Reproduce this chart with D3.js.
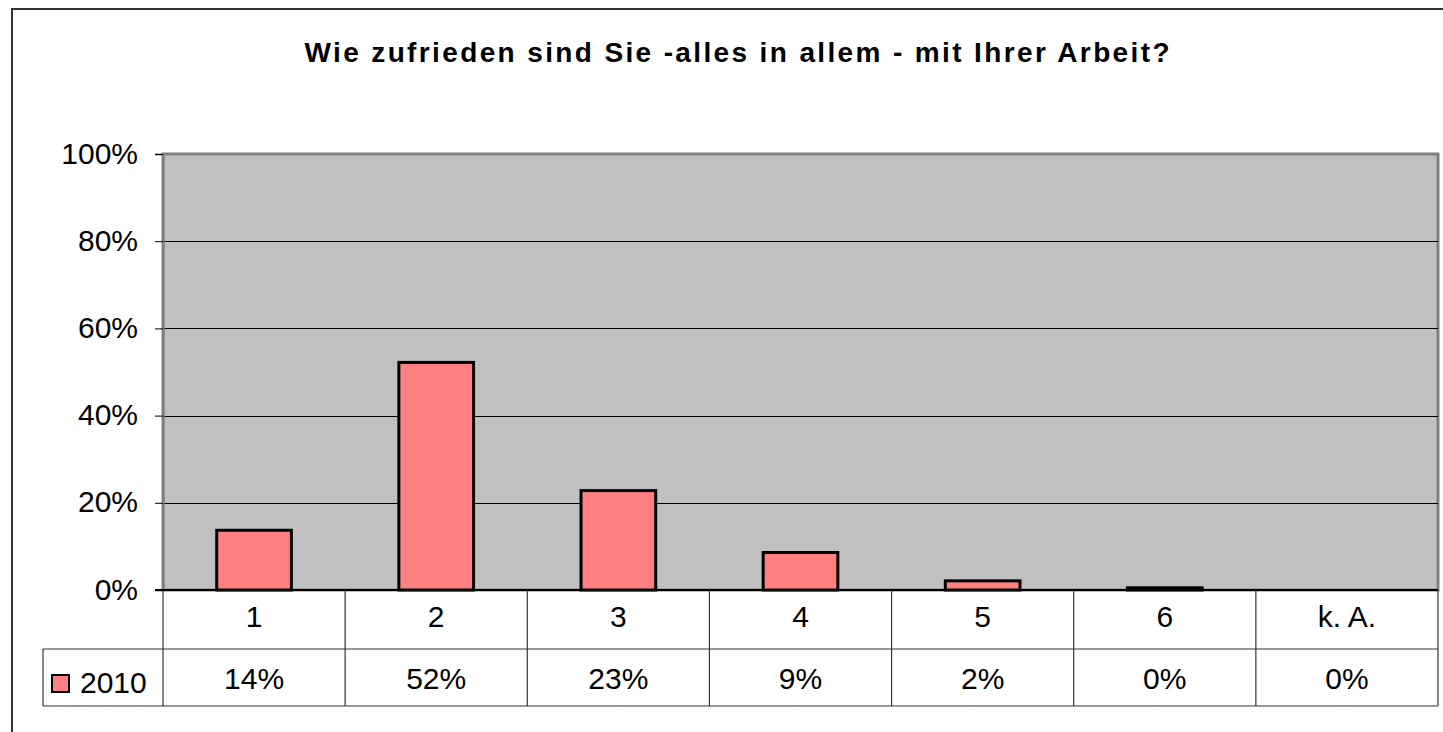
<!DOCTYPE html>
<html>
<head>
<meta charset="utf-8">
<script src="https://cdn.jsdelivr.net/npm/d3@7"></script>
<style>
  body { margin: 0; background: #fff; }
  svg { display: block; font-family: "Liberation Sans", Arial, sans-serif; }
</style>
</head>
<body>
<div id="chart"></div>
<script>
/* DATA */
const title = "Wie zufrieden sind Sie -alles in allem - mit Ihrer Arbeit?";
const categories = ["1", "2", "3", "4", "5", "6", "k. A."];
const seriesName = "2010";
const values = [0.137, 0.522, 0.228, 0.086, 0.021, 0.005, 0];
const tableLabels = ["14%", "52%", "23%", "9%", "2%", "0%", "0%"];
const yTicks = [0, 0.2, 0.4, 0.6, 0.8, 1];

/* CONSTANTS */
const width = 1443, height = 732;
const plot = { left: 163, right: 1438, top: 154, bottom: 590 };
const row1Bottom = 649, row2Bottom = 706, legendLeft = 43;
const barColor = "#ff8080";
const fontSize = 30;

const svg = d3.select("#chart").append("svg")
  .attr("width", width)
  .attr("height", height);

// outer chart border
svg.append("rect")
  .attr("x", 12).attr("y", 9)
  .attr("width", width + 20).attr("height", height + 20)
  .attr("fill", "#fff")
  .attr("stroke", "#333").attr("stroke-width", 2);

// title
svg.append("text")
  .attr("x", 737).attr("y", 62)
  .attr("text-anchor", "middle")
  .attr("font-size", 28).attr("font-weight", "bold")
  .attr("textLength", 865).attr("lengthAdjust", "spacing")
  .text(title);

/* SCALES */
const xScale = d3.scaleBand()
  .domain(categories)
  .range([plot.left, plot.right])
  .padding(0);

const yScale = d3.scaleLinear()
  .domain([0, 1])
  .range([plot.bottom, plot.top]);

// plot background
svg.append("rect")
  .attr("x", plot.left).attr("y", plot.top)
  .attr("width", plot.right - plot.left).attr("height", plot.bottom - plot.top)
  .attr("fill", "#c0c0c0")
  .attr("stroke", "#808080").attr("stroke-width", 3);

// gridlines
svg.append("g")
  .selectAll("line")
  .data(yTicks.filter(d => d > 0 && d < 1))
  .join("line")
  .attr("x1", plot.left).attr("x2", plot.right)
  .attr("y1", d => Math.round(yScale(d)) + 0.5)
  .attr("y2", d => Math.round(yScale(d)) + 0.5)
  .attr("stroke", "#000").attr("stroke-width", 1);

// y axis
const yAxis = svg.append("g")
  .attr("transform", `translate(${plot.left},0)`)
  .call(d3.axisLeft(yScale)
    .tickValues(yTicks)
    .tickFormat(d3.format(".0%"))
    .tickSize(8)
    .tickPadding(17));
yAxis.select(".domain").attr("stroke", "#808080").attr("stroke-width", 2);
yAxis.selectAll(".tick line").attr("stroke", "#000");
yAxis.selectAll(".tick text")
  .attr("font-size", fontSize)
  .attr("font-family", "Liberation Sans, Arial, sans-serif")
  .attr("fill", "#000")
  .attr("dy", "0.30em");

// bars
const barW = xScale.bandwidth() * 0.41;
svg.append("g")
  .selectAll("rect")
  .data(values.map((v, i) => ({ cat: categories[i], v })))
  .join("rect")
  .attr("x", d => xScale(d.cat) + (xScale.bandwidth() - barW) / 2)
  .attr("y", d => yScale(d.v))
  .attr("width", barW)
  .attr("height", d => yScale(0) - yScale(d.v))
  .attr("fill", barColor)
  .attr("stroke", "#000").attr("stroke-width", 3)
  .attr("display", d => d.v > 0 ? null : "none");

// baseline
svg.append("line")
  .attr("x1", plot.left - 8).attr("x2", plot.right)
  .attr("y1", plot.bottom).attr("y2", plot.bottom)
  .attr("stroke", "#000").attr("stroke-width", 2);

/* DATA TABLE */
const table = svg.append("g").attr("stroke", "#333").attr("stroke-width", 1.2);
// horizontal lines
table.append("line")
  .attr("x1", legendLeft).attr("x2", plot.right)
  .attr("y1", row1Bottom).attr("y2", row1Bottom);
table.append("line")
  .attr("x1", legendLeft).attr("x2", plot.right)
  .attr("y1", row2Bottom).attr("y2", row2Bottom);
table.append("line")
  .attr("x1", legendLeft).attr("x2", legendLeft)
  .attr("y1", row1Bottom).attr("y2", row2Bottom);
// column separators
table.selectAll(".col")
  .data(categories.map(c => xScale(c)).concat([plot.right]))
  .join("line")
  .attr("class", "col")
  .attr("x1", d => d).attr("x2", d => d)
  .attr("y1", plot.bottom).attr("y2", row2Bottom);

// category labels
svg.append("g")
  .selectAll("text")
  .data(categories)
  .join("text")
  .attr("x", d => xScale(d) + xScale.bandwidth() / 2)
  .attr("y", 627)
  .attr("text-anchor", "middle")
  .attr("font-size", fontSize)
  .text(d => d);

// value labels
svg.append("g")
  .selectAll("text")
  .data(tableLabels)
  .join("text")
  .attr("x", (d, i) => xScale(categories[i]) + xScale.bandwidth() / 2)
  .attr("y", 689)
  .attr("text-anchor", "middle")
  .attr("font-size", fontSize)
  .text(d => d);

// legend key
svg.append("rect")
  .attr("x", 52).attr("y", 675)
  .attr("width", 17).attr("height", 17)
  .attr("fill", barColor)
  .attr("stroke", "#000").attr("stroke-width", 2);
svg.append("text")
  .attr("x", 80).attr("y", 693)
  .attr("font-size", fontSize)
  .text(seriesName);
</script>
</body>
</html>
